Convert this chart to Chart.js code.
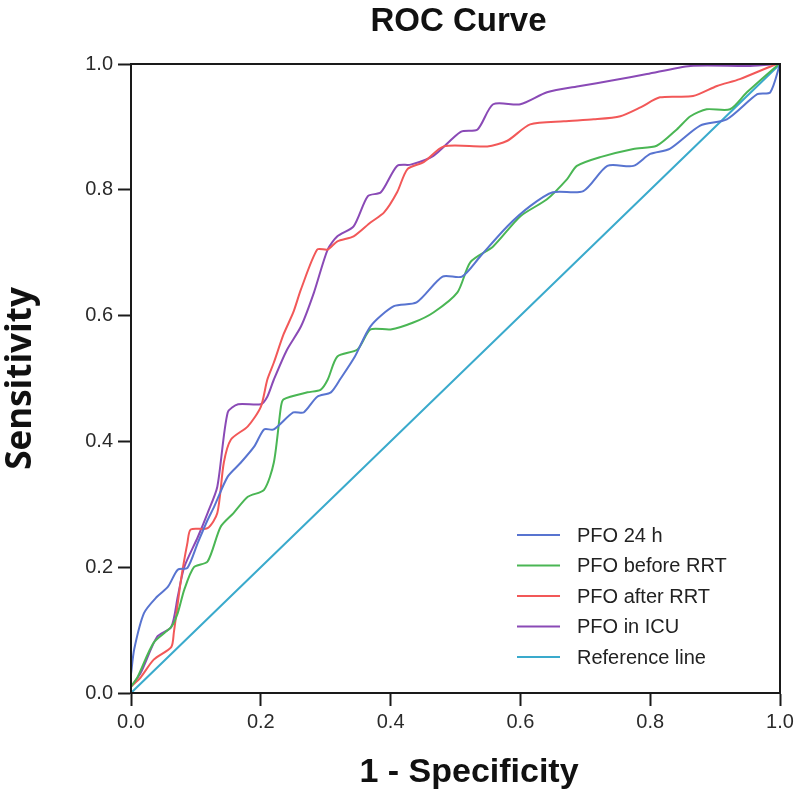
<!DOCTYPE html>
<html>
<head>
<meta charset="utf-8">
<script src="https://cdn.jsdelivr.net/npm/chart.js@4.4.1/dist/chart.umd.min.js"></script>
<style>
  html, body { margin: 0; padding: 0; background: #fff; }
  #wrap { width: 800px; height: 795px; }
</style>
</head>
<body>
<div id="wrap"><canvas id="rocChart" width="800" height="795"></canvas></div>
<script>
var seriesNames = ["PFO 24 h", "PFO before RRT", "PFO after RRT", "PFO in ICU", "Reference line"];
var seriesColors = ["rgb(88,116,208)", "rgb(74,182,84)", "rgb(242,88,88)", "rgb(138,74,182)", "rgb(58,170,204)"];

var tickValues = [0, 0.2, 0.4, 0.6, 0.8, 1.0];

var pfo24hX = [0, 0.005, 0.02, 0.04, 0.057, 0.072, 0.087, 0.103, 0.118, 0.128, 0.149, 0.169, 0.19, 0.205, 0.22, 0.25, 0.266, 0.287, 0.308, 0.323, 0.345, 0.369, 0.405, 0.44, 0.48, 0.51, 0.538, 0.58, 0.615, 0.65, 0.697, 0.734, 0.774, 0.8, 0.83, 0.877, 0.918, 0.965, 0.985, 1.0];
var pfo24hY = [0.03, 0.07, 0.127, 0.153, 0.169, 0.196, 0.199, 0.239, 0.275, 0.296, 0.344, 0.366, 0.392, 0.419, 0.419, 0.446, 0.446, 0.471, 0.478, 0.5, 0.535, 0.583, 0.615, 0.621, 0.662, 0.662, 0.694, 0.742, 0.774, 0.796, 0.798, 0.838, 0.838, 0.857, 0.865, 0.902, 0.912, 0.952, 0.955, 1.0];

var beforeX = [0, 0.01, 0.035, 0.062, 0.072, 0.082, 0.097, 0.118, 0.138, 0.158, 0.18, 0.205, 0.22, 0.231, 0.235, 0.272, 0.292, 0.303, 0.318, 0.349, 0.369, 0.4, 0.435, 0.466, 0.503, 0.523, 0.558, 0.6, 0.641, 0.672, 0.687, 0.723, 0.774, 0.81, 0.841, 0.862, 0.887, 0.923, 0.949, 0.995, 1.0];
var beforeY = [0.01, 0.025, 0.08, 0.105, 0.127, 0.164, 0.2, 0.209, 0.264, 0.286, 0.312, 0.323, 0.366, 0.455, 0.467, 0.478, 0.482, 0.498, 0.535, 0.546, 0.578, 0.578, 0.589, 0.605, 0.637, 0.685, 0.71, 0.758, 0.785, 0.817, 0.838, 0.852, 0.865, 0.87, 0.896, 0.917, 0.928, 0.928, 0.955, 0.997, 1.0];

var afterX = [0, 0.015, 0.035, 0.062, 0.066, 0.077, 0.087, 0.092, 0.118, 0.133, 0.143, 0.154, 0.18, 0.2, 0.21, 0.22, 0.235, 0.25, 0.262, 0.287, 0.303, 0.318, 0.343, 0.369, 0.39, 0.41, 0.426, 0.451, 0.482, 0.549, 0.58, 0.615, 0.667, 0.713, 0.754, 0.785, 0.815, 0.866, 0.903, 0.938, 0.995, 1.0];
var afterY = [0.01, 0.025, 0.053, 0.073, 0.096, 0.18, 0.239, 0.26, 0.262, 0.286, 0.366, 0.403, 0.424, 0.455, 0.498, 0.525, 0.57, 0.605, 0.642, 0.705, 0.705, 0.718, 0.726, 0.748, 0.764, 0.796, 0.833, 0.844, 0.869, 0.869, 0.878, 0.904, 0.909, 0.912, 0.917, 0.931, 0.947, 0.949, 0.965, 0.976, 1.0, 1.0];

var icuX = [0, 0.015, 0.04, 0.062, 0.072, 0.082, 0.103, 0.118, 0.133, 0.149, 0.165, 0.2, 0.21, 0.22, 0.24, 0.262, 0.282, 0.303, 0.318, 0.343, 0.365, 0.385, 0.41, 0.431, 0.466, 0.508, 0.534, 0.558, 0.6, 0.641, 0.692, 0.743, 0.795, 0.862, 0.954, 1.0];
var icuY = [0.01, 0.032, 0.089, 0.105, 0.153, 0.2, 0.248, 0.286, 0.328, 0.446, 0.459, 0.459, 0.471, 0.498, 0.545, 0.583, 0.637, 0.705, 0.726, 0.742, 0.79, 0.796, 0.838, 0.84, 0.854, 0.892, 0.896, 0.936, 0.936, 0.955, 0.965, 0.974, 0.984, 0.997, 0.997, 1.0];

var refX = [0, 1];
var refY = [0, 1];

function toPoints(xs, ys) {
    var pts = [];
    for (var i = 0; i < xs.length; i++) {
        pts.push({ x: xs[i], y: ys[i] });
    }
    return pts;
}

var allX = [pfo24hX, beforeX, afterX, icuX, refX];
var allY = [pfo24hY, beforeY, afterY, icuY, refY];

var datasets = [];
for (var s = 0; s < seriesNames.length; s++) {
    datasets.push({
        label: seriesNames[s],
        data: toPoints(allX[s], allY[s]),
        borderColor: seriesColors[s],
        backgroundColor: seriesColors[s],
        borderWidth: 2,
        showLine: true,
        pointRadius: 0,
        tension: 0.25,
        fill: false
    });
}

// frame, titles and the legend inside the plot
var rocDecor = {
    id: 'rocDecor',
    beforeDraw: function(chart) {
        var ctx = chart.ctx;
        ctx.save();
        ctx.fillStyle = '#ffffff';
        ctx.fillRect(0, 0, chart.width, chart.height);
        ctx.restore();
    },
    afterDraw: function(chart) {
        var ctx = chart.ctx;
        var a = chart.chartArea;
        ctx.save();
        ctx.strokeStyle = '#1a1a1a';
        ctx.lineWidth = 2;
        ctx.strokeRect(a.left, a.top, a.right - a.left, a.bottom - a.top);

        ctx.fillStyle = '#111';
        ctx.textAlign = 'center';
        ctx.textBaseline = 'middle';
        ctx.font = 'bold 33px "Liberation Sans", Arial, sans-serif';
        ctx.fillText('ROC Curve', (a.left + a.right) / 2 + 3, 22);
        ctx.font = 'bold 34px "Liberation Sans", Arial, sans-serif';
        ctx.fillText('1 - Specificity', 469, 773);

        ctx.font = '20px "Liberation Sans", Arial, sans-serif';
        ctx.textAlign = 'left';
        var ds = chart.data.datasets;
        for (var i = 0; i < ds.length; i++) {
            var y = 535 + i * 30.5;
            ctx.strokeStyle = ds[i].borderColor;
            ctx.lineWidth = 2;
            ctx.beginPath();
            ctx.moveTo(517, y);
            ctx.lineTo(560, y);
            ctx.stroke();
            ctx.fillStyle = '#222';
            ctx.fillText(ds[i].label, 577, y + 1);
        }
        ctx.restore();
    }
};

var ctx = document.getElementById("rocChart");

var rocChart = new Chart(ctx, {
    type: 'scatter',
    data: { datasets: datasets },
    options: {
        responsive: false,
        animation: false,
        layout: { padding: { top: 64, right: 20, left: 0, bottom: 0 } },
        plugins: {
            legend: { display: false },
            title: { display: false },
            tooltip: { enabled: false }
        },
        scales: {
            x: {
                type: 'linear',
                min: 0,
                max: 1,
                afterBuildTicks: function(scale) {
                    scale.ticks = tickValues.map(function(v) { return { value: v }; });
                },
                afterFit: function(scale) { scale.height = 102; },
                grid: {
                    drawOnChartArea: false,
                    drawTicks: true,
                    tickLength: 13,
                    tickWidth: 2,
                    tickColor: '#1a1a1a'
                },
                border: { display: true, color: '#1a1a1a', width: 2 },
                ticks: {
                    padding: 4,
                    color: '#2a2a2a',
                    font: { family: '"Liberation Sans", Arial, sans-serif', size: 20 },
                    maxRotation: 0,
                    callback: function(v) { return v.toFixed(1); }
                }
            },
            y: {
                type: 'linear',
                min: 0,
                max: 1,
                afterBuildTicks: function(scale) {
                    scale.ticks = tickValues.map(function(v) { return { value: v }; });
                },
                afterFit: function(scale) { scale.width = 131; },
                grid: {
                    drawOnChartArea: false,
                    drawTicks: true,
                    tickLength: 13,
                    tickWidth: 2,
                    tickColor: '#1a1a1a'
                },
                border: { display: true, color: '#1a1a1a', width: 2 },
                ticks: {
                    padding: 5,
                    color: '#2a2a2a',
                    font: { family: '"Liberation Sans", Arial, sans-serif', size: 20 },
                    callback: function(v) { return v.toFixed(1); }
                },
                title: {
                    display: true,
                    text: 'Sensitivity',
                    color: '#111',
                    font: { family: '"Open Sans", sans-serif', size: 35, weight: 'bold' },
                    padding: { top: 0, bottom: 0 }
                }
            }
        }
    },
    plugins: [rocDecor]
});
</script>
</body>
</html>
